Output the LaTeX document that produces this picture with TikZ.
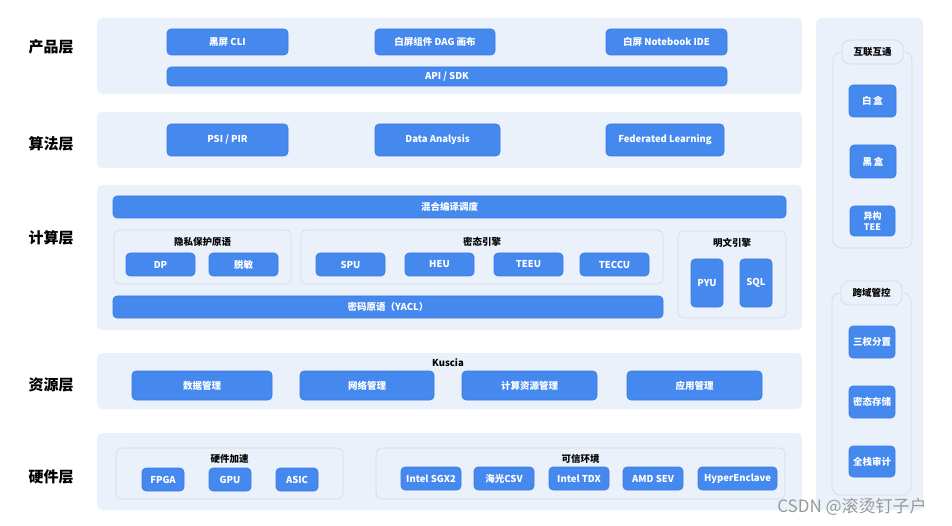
\documentclass[tikz,border=0pt]{standalone}
\usepackage{fontspec}
\setmainfont{Noto Sans CJK SC}
\usetikzlibrary{positioning}
\definecolor{boxblue}{HTML}{4589EE}
\definecolor{boxedge}{HTML}{3A7BE0}
\definecolor{layerbg}{HTML}{EAF1FB}
\definecolor{groupedge}{HTML}{D3D8E0}
\definecolor{groupbg}{HTML}{EBF1FA}
\tikzset{
  layer/.style={fill=layerbg, draw=none, rounded corners=5pt, minimum width=#1},
  bbox/.style={fill=boxblue, draw=boxedge, line width=0.6pt, rounded corners=4pt, text=white,
     font=\bfseries\fontsize{9.5}{11}\selectfont, inner sep=0pt, align=center},
  grp/.style={fill=groupbg, draw=groupedge, line width=0.6pt, rounded corners=6pt, inner sep=0pt},
  tabbox/.style={fill=groupbg, draw=groupedge, line width=0.6pt, rounded corners=8pt, inner sep=0pt,
     font=\bfseries\fontsize{9.5}{11}\selectfont, text=black},
  gtitle/.style={font=\bfseries\fontsize{9.5}{11}\selectfont, text=black, inner sep=0pt},
  lyrlabel/.style={font=\bfseries\fontsize{15}{17}\selectfont, text=black, inner sep=0pt},
  sz/.style 2 args={minimum width=#1pt, minimum height=#2pt}
}
\begin{document}
\begin{tikzpicture}[x=1pt,y=-1pt]
\useasboundingbox[fill=white] (0,0) rectangle (952,526);
% layer bands
\node[layer=705pt, minimum height=76pt, inner sep=0pt] (L1) at (449.5,56) {};
\node[layer=705pt, minimum height=56pt, inner sep=0pt] (L2) at (449.5,140) {};
\node[layer=705pt, minimum height=145pt, inner sep=0pt] (L3) at (449.5,257.5) {};
\node[layer=705pt, minimum height=56pt, inner sep=0pt] (L4) at (449.5,381) {};
\node[layer=705pt, minimum height=77pt, inner sep=0pt] (L5) at (449.5,471.5) {};
\node[layer=107pt, minimum height=492pt, inner sep=0pt] (R) at (869.5,264) {};
% layer labels
\node[lyrlabel] (t1) at (51,47) {产品层};
\node[lyrlabel] (t2) at (51,144) {算法层};
\node[lyrlabel] (t3) at (51,238) {计算层};
\node[lyrlabel] (t4) at (51,385) {资源层};
\node[lyrlabel] (t5) at (51,477) {硬件层};
% product layer
\node[bbox, sz={121}{26}] (cli) at (227.5,42) {黑屏 CLI};
\node[bbox, sz={120}{26}] (dag) at (435,42) {白屏组件 DAG 画布};
\node[bbox, sz={121}{26}] (ide) at (666.5,42) {白屏 Notebook IDE};
\node[bbox, sz={560}{19}] (api) at (447,76.5) {API / SDK};
% algorithm layer
\node[bbox, sz={121}{32}] (psi) at (227.5,140) {PSI / PIR};
\node[bbox, sz={125}{32}] (da) at (437.5,140) {Data Analysis};
\node[bbox, sz={118}{32}] (fl) at (665,140) {Federated Learning};
% compute layer
\node[bbox, sz={673}{22}] (mix) at (449.5,207) {混合编译调度};
\node[grp, sz={177}{54}] (gpriv) at (202.5,257) {};
\node[gtitle] (tpriv) at (202.5,242) {隐私保护原语};
\node[grp, sz={362}{54}] (genc) at (482,257) {};
\node[gtitle] (tenc) at (482,242) {密态引擎};
\node[grp, sz={108}{87}] (gplain) at (732,274.5) {};
\node[gtitle] (tplain) at (732,243) {明文引擎};
\node[bbox, sz={69}{23}] (dp) at (160.5,264.5) {DP};
\node[bbox, sz={69}{23}] (tm) at (243.5,264.5) {脱敏};
\node[bbox, sz={69}{23}] (spu) at (350.5,264.5) {SPU};
\node[bbox, sz={69}{23}] (heu) at (439.5,264.5) {HEU};
\node[bbox, sz={69}{23}] (teeu) at (528.5,264.5) {TEEU};
\node[bbox, sz={69}{23}] (teccu) at (614.5,264.5) {TECCU};
\node[bbox, sz={32}{48}] (pyu) at (707,283) {PYU};
\node[bbox, sz={32}{48}] (sql) at (756,283) {SQL};
\node[bbox, sz={550}{22}] (yacl) at (388,307) {密码原语（YACL）};
% resource layer
\node[gtitle] (kus) at (448,363) {Kuscia};
\node[bbox, sz={140}{29}] (data) at (202,385.5) {数据管理};
\node[bbox, sz={134}{29}] (net) at (367,385.5) {网络管理};
\node[bbox, sz={135}{29}] (comp) at (529.5,385.5) {计算资源管理};
\node[bbox, sz={135}{29}] (app) at (694.5,385.5) {应用管理};
% hardware layer
\node[grp, sz={227}{51}] (ghw) at (229.5,473.5) {};
\node[gtitle] (thw) at (229.5,459) {硬件加速};
\node[bbox, sz={42}{23}] (fpga) at (163,479.5) {FPGA};
\node[bbox, sz={42}{23}] (gpu) at (230,479.5) {GPU};
\node[bbox, sz={42}{23}] (asic) at (297,479.5) {ASIC};
\node[grp, sz={409}{51}] (gtee) at (580.5,473.5) {};
\node[gtitle] (ttee) at (580.5,459) {可信环境};
\node[bbox, sz={60}{23}] (sgx) at (431,478.5) {Intel SGX2};
\node[bbox, sz={60}{23}] (csv) at (504,478.5) {海光CSV};
\node[bbox, sz={60}{23}] (tdx) at (579,478.5) {Intel TDX};
\node[bbox, sz={60}{23}] (sev) at (653,478.5) {AMD SEV};
\node[bbox, sz={79}{23}] (he) at (737.5,478.5) {HyperEnclave};
% right panel
\node[grp, sz={79}{196}, rounded corners=8pt] (gint) at (872.5,150) {};
\node[tabbox, sz={61}{24}] (tint) at (872.5,52) {互联互通};
\node[bbox, sz={47}{32}] (wb) at (872.5,101) {白\,盒};
\node[bbox, sz={46}{33}] (bb) at (873,161.5) {黑\,盒};
\node[bbox, sz={45}{30}, font=\bfseries\fontsize{9}{11.5}\selectfont] (htee) at (872.5,221) {异构\\TEE};
\node[grp, sz={79}{202}, rounded corners=8pt] (gctl) at (871.5,394) {};
\node[tabbox, sz={61}{24}] (tctl) at (871.5,293) {跨域管控};
\node[bbox, sz={46}{32}] (sq) at (872,342) {三权分置};
\node[bbox, sz={46}{32}] (ms) at (872,402) {密态存储};
\node[bbox, sz={46}{31}] (qz) at (872,461.5) {全栈审计};
% watermark
\node[font=\fontsize{17}{19}\selectfont, text=black!40, inner sep=0pt] (wm) at (852,507) {CSDN @滚烫钉子户};
\end{tikzpicture}
\end{document}
